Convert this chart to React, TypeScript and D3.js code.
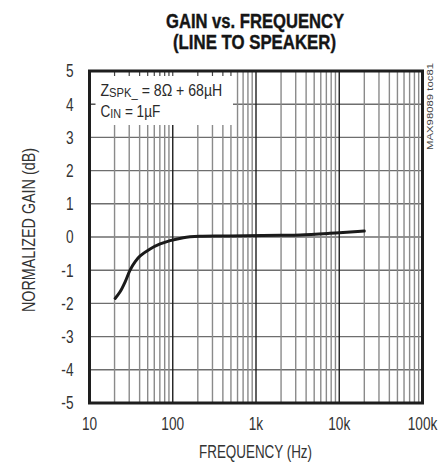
import React from "react";
import * as d3 from "d3";

const freqs = [20.3, 23.3, 26.8, 30.8, 35.4, 40.6, 53.5, 70.6, 93, 134, 213, 400, 770, 2000, 3400, 7700, 10000, 15000, 20000];
const gains = [-1.85, -1.65, -1.35, -0.99, -0.74, -0.57, -0.36, -0.21, -0.11, -0.02, 0.02, 0.03, 0.04, 0.05, 0.06, 0.11, 0.13, 0.16, 0.18];

const xTickValues = [10, 100, 1000, 10000, 100000];
const xTickLabels = ["10", "100", "1k", "10k", "100k"];
const yTickValues = [5, 4, 3, 2, 1, 0, -1, -2, -3, -4, -5];
const yTickLabels = ["5", "4", "3", "2", "1", "0", "-1", "-2", "-3", "-4", "-5"];

const title1 = "GAIN vs. FREQUENCY";
const title2 = "(LINE TO SPEAKER)";
const xTitle = "FREQUENCY (Hz)";
const yTitle = "NORMALIZED GAIN (dB)";
const sideNote = "MAX98089 toc81";

const W = 445;
const H = 465;
const M = { left: 89.5, right: 422.5, top: 71, bottom: 403 };
const FONT = "'Liberation Sans', Arial, sans-serif";
const NARROW = 0.78;

const AW: Record<string, number> = {
  "0": 0.556, "1": 0.556, "2": 0.556, "3": 0.556, "4": 0.556, "5": 0.556, "6": 0.556, "7": 0.556, "8": 0.556, "9": 0.556,
  "-": 0.333, k: 0.5, " ": 0.278, "(": 0.333, ")": 0.333, z: 0.5, d: 0.556, B: 0.667,
};
function approxWidth(s: string, fs: number) {
  let w = 0;
  for (const c of s) w += AW[c] ?? (c >= "A" && c <= "Z" ? 0.7 : 0.55);
  return w * fs;
}

export default function App() {
  const x = d3.scaleLog().domain([10, 100000]).range([M.left, M.right]);
  const y = d3.scaleLinear().domain([-5, 5]).range([M.bottom, M.top]);

  const minor: number[] = [];
  const decades: number[] = [];
  for (let k = 1; k <= 4; k++) {
    for (let m = 2; m <= 9; m++) minor.push(m * Math.pow(10, k));
    if (k >= 2) decades.push(Math.pow(10, k));
  }
  const hLines = d3.range(-4, 5);

  const line = d3
    .line<number>()
    .x((_, i) => x(freqs[i]))
    .y((g) => y(g))
    .curve(d3.curveCatmullRom.alpha(0.5));

  const box = { x0: M.left, x1: 233, y0: M.top, y1: 125 };
  const tickFs = 17.5;

  return (
    <svg
      width={W}
      height={H}
      style={{ position: "absolute", left: 0, top: 0, background: "#fff" }}
      fontFamily={FONT}
    >
      <rect x={0} y={0} width={W} height={H} fill="#fff" />
      <text x={255} y={27.7} textAnchor="middle" fontSize={19.5} fontWeight="bold" fill="#151515"
        stroke="#151515" strokeWidth={0.4}
        textLength={178} lengthAdjust="spacingAndGlyphs">
        {title1}
      </text>
      <text x={254.5} y={49.3} textAnchor="middle" fontSize={19.5} fontWeight="bold" fill="#151515"
        stroke="#151515" strokeWidth={0.4}
        textLength={163} lengthAdjust="spacingAndGlyphs">
        {title2}
      </text>

      {hLines.map((v) => (
        <line key={"h" + v} x1={M.left} x2={M.right} y1={y(v)} y2={y(v)} stroke="#6e6e6e" strokeWidth={1.4} />
      ))}
      {minor.map((f) => (
        <line key={"m" + f} x1={x(f)} x2={x(f)} y1={M.top} y2={M.bottom} stroke="#8a8a8a" strokeWidth={1.4} />
      ))}
      {decades.map((f) => (
        <line key={"d" + f} x1={x(f)} x2={x(f)} y1={M.top} y2={M.bottom} stroke="#1e1e1e" strokeWidth={1.4} />
      ))}

      <rect x={box.x0} y={box.y0} width={box.x1 - box.x0} height={box.y1 - box.y0} fill="#fff" />
      {[...minor, ...decades]
        .filter((f) => x(f) < box.x1)
        .map((f) => (
          <line key={"t" + f} x1={x(f)} x2={x(f)} y1={M.top} y2={M.top + 5} stroke="#444" strokeWidth={1.2} />
        ))}
      <line x1={M.left} x2={M.left + 6} y1={y(4)} y2={y(4)} stroke="#444" strokeWidth={1.4} />
      <g transform="translate(100.5,95.5) scale(0.83,1)">
        <text x={0} y={0} fontSize={17} fill="#2a2a2a">
          Z<tspan fontSize={13.5} dy={1}>SPK_</tspan>
          <tspan dy={-1}> = 8Ω + 68µH</tspan>
        </text>
      </g>
      <g transform="translate(100.5,116.5) scale(0.8,1)">
        <text x={0} y={0} fontSize={17} fill="#2a2a2a">
          C<tspan fontSize={13.5} dy={1}>IN</tspan>
          <tspan dy={-1}> = 1µF</tspan>
        </text>
      </g>

      <path d={line(gains) || ""} fill="none" stroke="#1a1a1a" strokeWidth={3} strokeLinecap="round" />

      <rect
        x={M.left}
        y={M.top}
        width={M.right - M.left}
        height={M.bottom - M.top}
        fill="none"
        stroke="#1e1e1e"
        strokeWidth={3}
      />

      {yTickValues.map((v, i) => (
        <text key={"yl" + v} x={73.5} y={y(v) + 6.3} textAnchor="end" fontSize={tickFs} fill="#333"
          textLength={approxWidth(yTickLabels[i], tickFs) * NARROW} lengthAdjust="spacingAndGlyphs">
          {yTickLabels[i]}
        </text>
      ))}
      {xTickValues.map((v, i) => (
        <text key={"xl" + v} x={x(v)} y={430} textAnchor="middle" fontSize={tickFs} fill="#333"
          textLength={approxWidth(xTickLabels[i], tickFs) * NARROW} lengthAdjust="spacingAndGlyphs">
          {xTickLabels[i]}
        </text>
      ))}

      <text x={255.5} y={458} textAnchor="middle" fontSize={17.5} fill="#333"
        textLength={113} lengthAdjust="spacingAndGlyphs">
        {xTitle}
      </text>
      <text
        transform={`translate(35,230) rotate(-90)`}
        textAnchor="middle"
        fontSize={17.5}
        fill="#333"
        textLength={164}
        lengthAdjust="spacingAndGlyphs"
      >
        {yTitle}
      </text>
      <text
        transform={`translate(433,63) rotate(-90)`}
        textAnchor="end"
        fontSize={9.5}
        fill="#444"
        textLength={87}
        lengthAdjust="spacingAndGlyphs"
      >
        {sideNote}
      </text>
    </svg>
  );
}
